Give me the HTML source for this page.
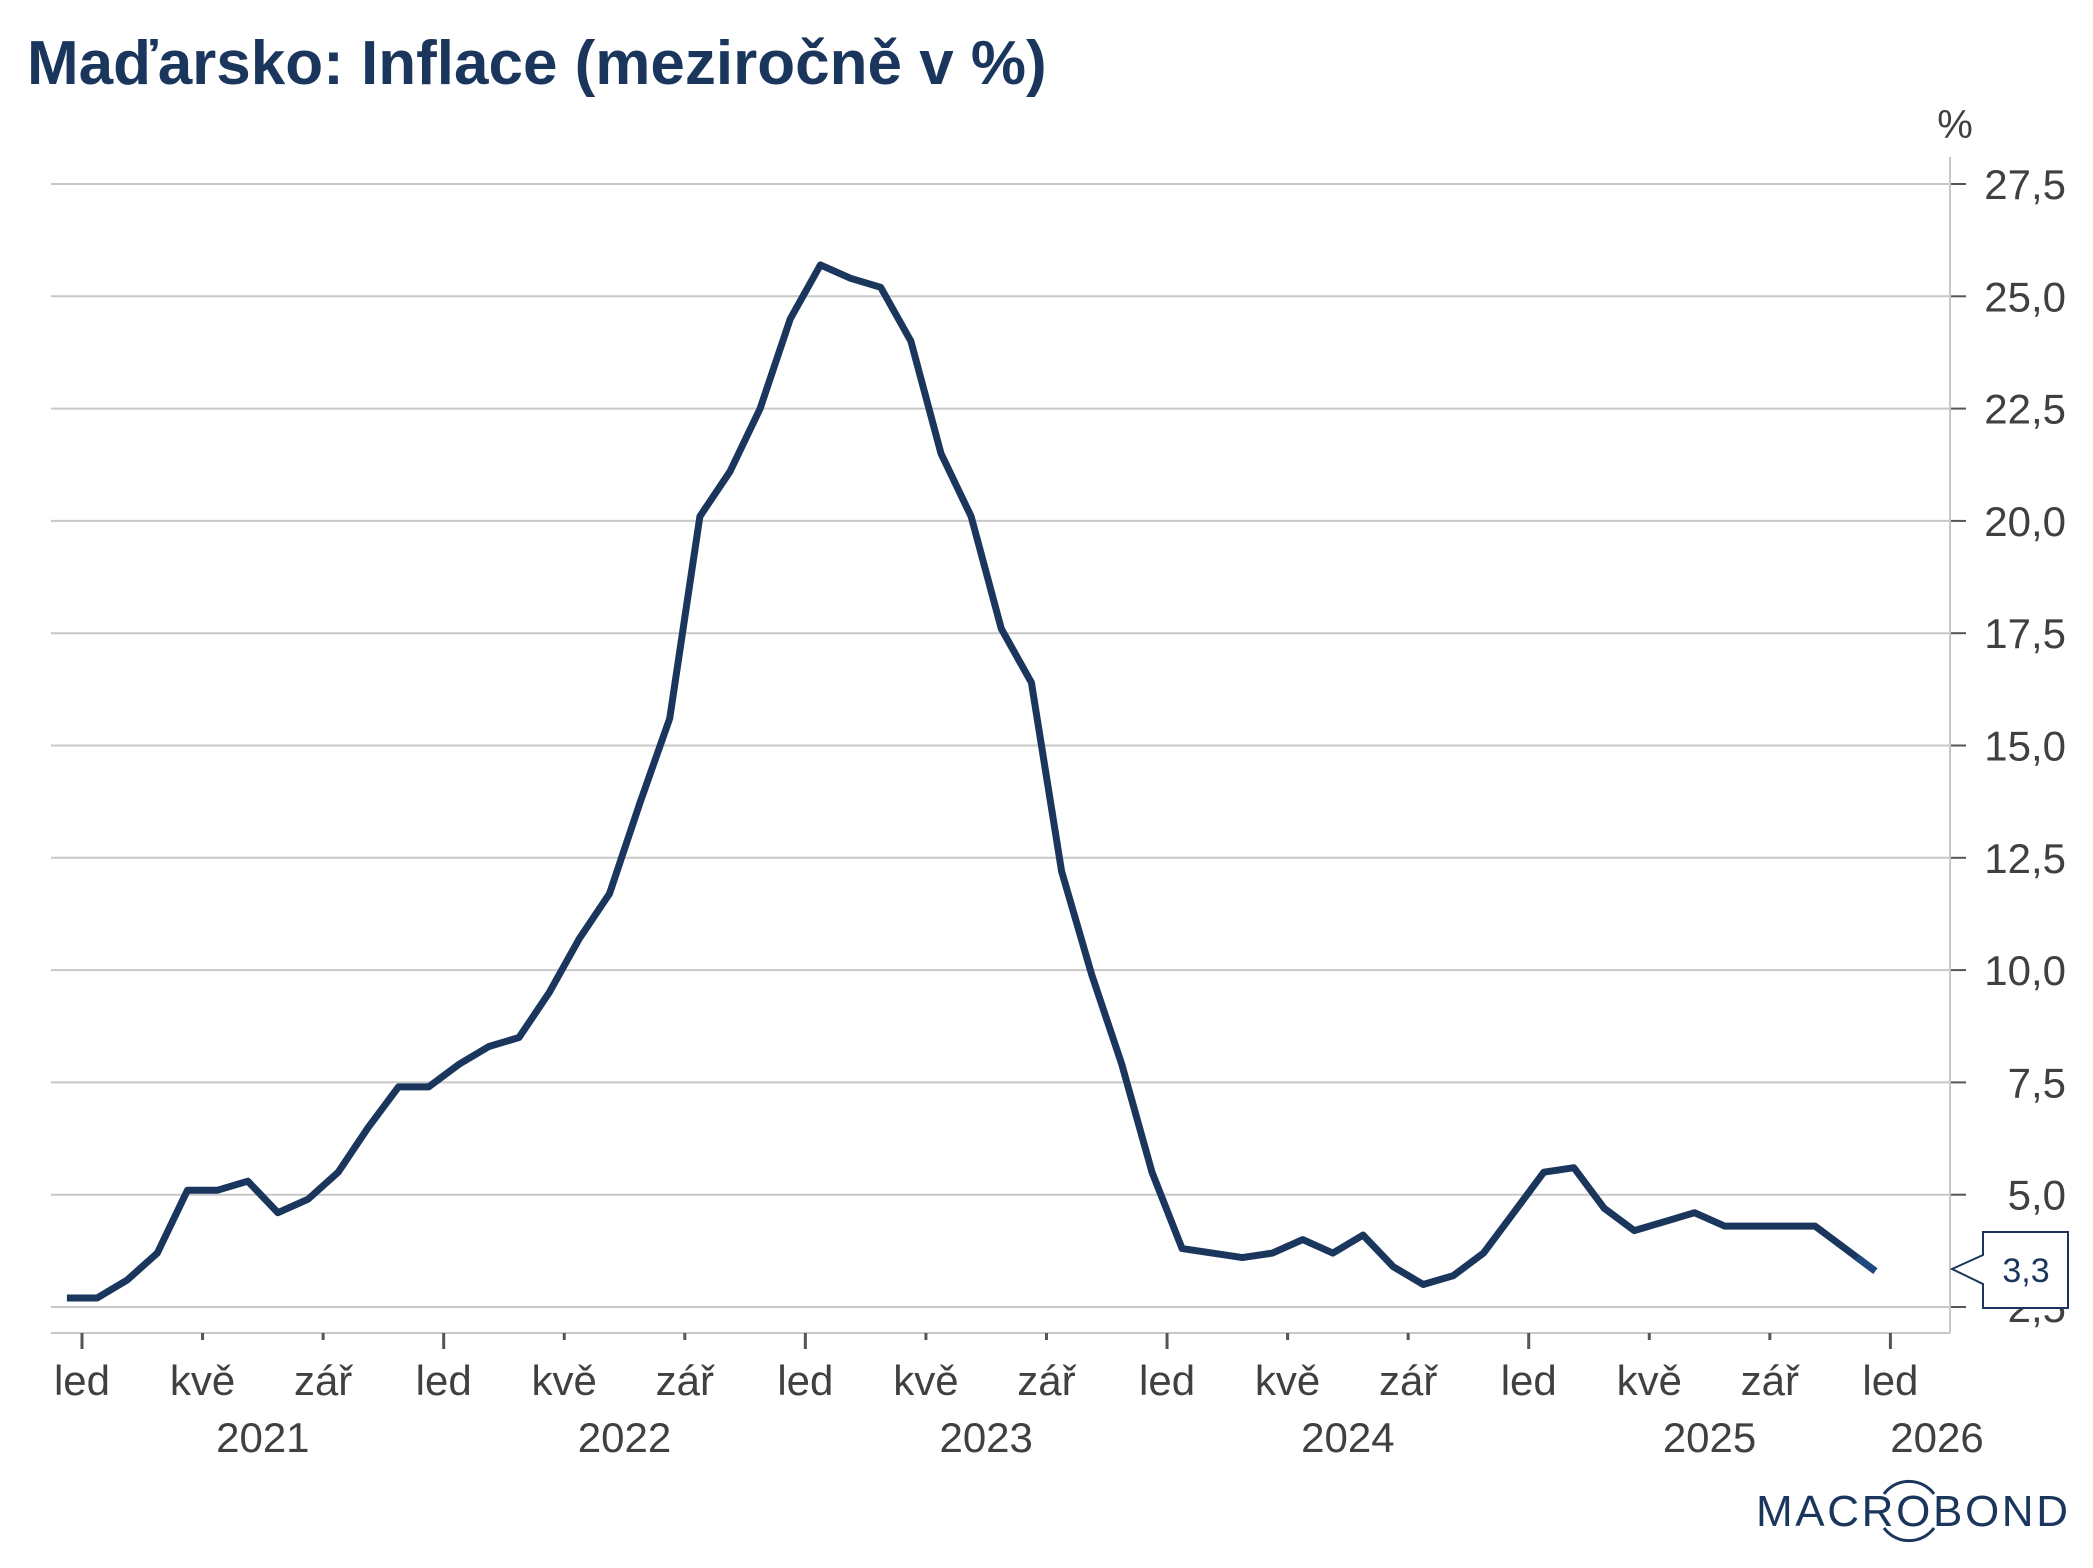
<!DOCTYPE html>
<html><head><meta charset="utf-8"><style>
html,body{margin:0;padding:0;background:#fff;}
svg{display:block;font-family:"Liberation Sans",sans-serif;}
</style></head><body>
<svg id="chart" width="2093" height="1568" viewBox="0 0 2093 1568">
<text x="27" y="84" font-size="62" font-weight="bold" fill="#1b365d">Maďarsko: Inflace (meziročně v %)</text>
<text x="1955" y="138" font-size="40" fill="#404040" text-anchor="middle">%</text>
<g id="grid"></g>
<g id="axes"></g>
<g id="series"></g>
<g>
<path d="M1983,1232 L2068,1232 L2068,1308 L1983,1308 L1983,1284 L1952,1269 L1983,1255 Z" fill="#fff" stroke="#1b365d" stroke-width="2"/>
<text x="2026" y="1282" font-size="34" fill="#1b365d" text-anchor="middle">3,3</text>
</g>
<g>
<text x="1756" y="1526" font-size="44" fill="#1b365d" textLength="312" lengthAdjust="spacing">MACROBOND</text>
<path d="M1884,1494 A31,31 0 0 1 1934,1494" fill="none" stroke="#1b365d" stroke-width="3"/>
<path d="M1884,1528 A31,31 0 0 0 1934,1528" fill="none" stroke="#1b365d" stroke-width="3"/>
</g>
</svg>
<script>
const values = [2.7,2.7,3.1,3.7,5.1,5.1,5.3,4.6,4.9,5.5,6.5,7.4,7.4,7.9,8.3,8.5,9.5,10.7,11.7,13.7,15.6,20.1,21.1,22.5,24.5,25.7,25.4,25.2,24.0,21.5,20.1,17.6,16.4,12.2,9.9,7.9,5.5,3.8,3.7,3.6,3.7,4.0,3.7,4.1,3.4,3.0,3.2,3.7,4.6,5.5,5.6,4.7,4.2,4.4,4.6,4.3,4.3,4.3,4.3,3.8,3.3];
const yTicks = [2.5,5.0,7.5,10.0,12.5,15.0,17.5,20.0,22.5,25.0,27.5];
const monthLabels = ["led","kvě","zář","led","kvě","zář","led","kvě","zář","led","kvě","zář","led","kvě","zář","led"];
const yearLabels = ["2021","2022","2023","2024","2025"];

const NS="http://www.w3.org/2000/svg";
const L=51,R=1950,T=157,B=1333;
const MW=30.14;
function y(v){return 1307-(v-2.5)*44.92;}
function xPt(i){return 82+MW*(i-0.5);}
function xMonth(m){return 82+MW*m;}
function mk(tag,attrs,parent){const e=document.createElementNS(NS,tag);for(const k in attrs)e.setAttribute(k,attrs[k]);parent.appendChild(e);return e;}
const grid=document.getElementById('grid'),axes=document.getElementById('axes'),series=document.getElementById('series');

yTicks.forEach(v=>{
  const g=mk('line',{x1:L,x2:R,y1:y(v),y2:y(v),stroke:'#c8c8c8','stroke-width':2},grid);
  
  
  mk('line',{x1:R,x2:R+16,y1:y(v),y2:y(v),stroke:'#555','stroke-width':2},axes);
  const t=mk('text',{x:2066,y:y(v)+15,'font-size':42,fill:'#404040','text-anchor':'end'},axes);
  t.textContent=v.toFixed(1).replace('.',',');
  
  
});
mk('line',{x1:R,x2:R,y1:T,y2:B,stroke:'#c8c8c8','stroke-width':2},axes);
mk('line',{x1:L,x2:R,y1:B,y2:B,stroke:'#c8c8c8','stroke-width':2},axes);

monthLabels.forEach((lab,k)=>{
  const x=xMonth(k*4);
  const major=(k%3===0);
  mk('line',{x1:x,x2:x,y1:B,y2:B+(major?16:7),stroke:'#555','stroke-width':3},axes);
  const t=mk('text',{x:x,y:1395,'font-size':42,fill:'#404040','text-anchor':'middle'},axes);
  t.textContent=lab;
  
  
});
yearLabels.forEach((lab,k)=>{
  const t=mk('text',{x:xMonth(k*12+6),y:1452,'font-size':42,fill:'#404040','text-anchor':'middle'},axes);
  t.textContent=lab;
  
  
});
const t26=mk('text',{x:1937,y:1452,'font-size':42,fill:'#404040','text-anchor':'middle'},axes);
t26.textContent="2026";



const pts=values.map((v,i)=>xPt(i).toFixed(1)+','+y(v).toFixed(1)).join(' ');
const line=mk('polyline',{points:pts,fill:'none',stroke:'#1b365d','stroke-width':7,'stroke-linejoin':'round'},series);


const n=values.length-1;
const fx=xPt(n-0.6),fy=y(values[n-1]+(values[n]-values[n-1])*0.4);
const last=mk('line',{x1:fx,y1:fy,x2:xPt(n),y2:y(values[n]),stroke:'#1f4a80','stroke-width':7},series);


</script>
</body></html>
